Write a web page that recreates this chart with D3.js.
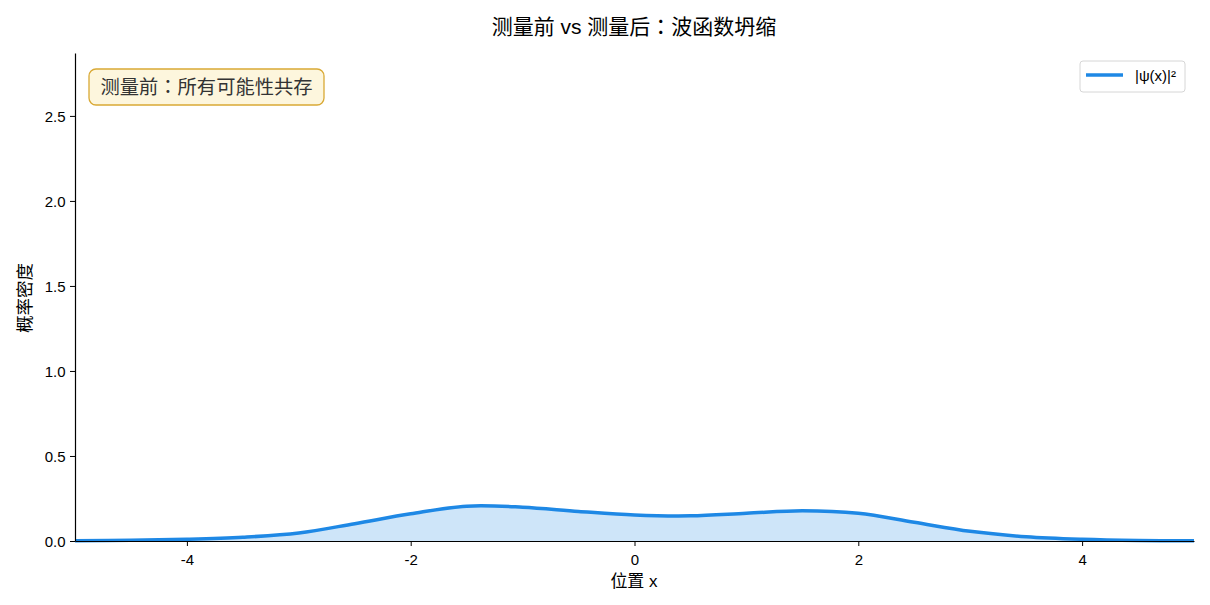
<!DOCTYPE html>
<html>
<head>
<meta charset="utf-8">
<script src="https://cdn.jsdelivr.net/npm/d3@7"></script>
<style>
  body { margin: 0; background: #fff; }
  svg { font-family: "Liberation Sans", "Noto Sans CJK TC", sans-serif; }
</style>
</head>
<body>
<div id="chart"></div>
<script>
// position samples and |psi(x)|^2
var xs = [-5, -4.5, -4, -3.5, -3, -2.5, -2, -1.5, -1, -0.5, 0, 0.5, 1, 1.5, 2, 2.5, 3, 3.5, 4, 4.5, 5];
var density = [0.001, 0.004, 0.010, 0.022, 0.047, 0.102, 0.160, 0.205, 0.199, 0.174, 0.153, 0.148, 0.163, 0.178, 0.163, 0.110, 0.057, 0.025, 0.010, 0.003, 0.001];
var xTicks = [-4, -2, 0, 2, 4];
var yTicks = [0, 0.5, 1.0, 1.5, 2.0, 2.5];

var width = 1210, height = 605;
var m = {top: 53, right: 16, bottom: 64, left: 75};

var svg = d3.select("#chart")
  .append("svg")
  .attr("width", width)
  .attr("height", height);

var x = d3.scaleLinear().domain([-5, 5]).range([m.left, width - m.right]);
var y = d3.scaleLinear().domain([0, 2.87]).range([height - m.bottom, m.top]);

var data = xs.map(function(d, i) { return {x: d, y: density[i]}; });
var curve = d3.curveCatmullRom.alpha(0.5);

// filled area under the curve
svg.append("path")
  .datum(data)
  .attr("fill", "#1e88e5")
  .attr("fill-opacity", 0.22)
  .attr("d", d3.area()
    .curve(curve)
    .x(function(d) { return x(d.x); })
    .y0(y(0))
    .y1(function(d) { return y(d.y); }));

svg.append("path")
  .datum(data)
  .attr("fill", "none")
  .attr("stroke", "#1e88e5")
  .attr("stroke-width", 3.5)
  .attr("d", d3.line()
    .curve(curve)
    .x(function(d) { return x(d.x); })
    .y(function(d) { return y(d.y); }));

// axes
var xAxis = svg.append("g")
  .attr("transform", "translate(0," + y(0) + ")")
  .call(d3.axisBottom(x).tickValues(xTicks).tickSize(5).tickSizeOuter(0)
    .tickFormat(function(d) { return String(d); }));
var yAxis = svg.append("g")
  .attr("transform", "translate(" + m.left + ",0)")
  .call(d3.axisLeft(y).tickValues(yTicks).tickSize(5).tickSizeOuter(0)
    .tickFormat(d3.format(".1f")));

[xAxis, yAxis].forEach(function(g) {
  g.select(".domain").attr("stroke", "#000").attr("stroke-width", 1.2);
  g.selectAll(".tick line").attr("stroke", "#000");
  g.selectAll(".tick text")
    .attr("fill", "#000")
    .style("font-size", "15px")
    .style("font-family", "Liberation Sans, Noto Sans CJK TC, sans-serif");
});
xAxis.selectAll(".tick text").attr("dy", "1.05em");
yAxis.selectAll(".tick text").attr("dx", "-0.1em").attr("dy", "0.35em");

// title and axis labels
svg.append("text")
  .attr("x", 634).attr("y", 34)
  .attr("text-anchor", "middle")
  .style("font-size", "21px")
  .style("fill", "#000")
  .text("测量前 vs 测量后：波函数坍缩");

svg.append("text")
  .attr("x", 634).attr("y", 587)
  .attr("text-anchor", "middle")
  .style("font-size", "17px")
  .text("位置 x");

svg.append("text")
  .attr("transform", "translate(31,298) rotate(-90)")
  .attr("text-anchor", "middle")
  .style("font-size", "17.5px")
  .text("概率密度");

// annotation box
var note = svg.append("g");
note.append("rect")
  .attr("x", 89).attr("y", 69)
  .attr("width", 235).attr("height", 36)
  .attr("rx", 7)
  .attr("fill", "#fdf6dd")
  .attr("stroke", "#d9a935")
  .attr("stroke-width", 1.3);
note.append("text")
  .attr("x", 206.5).attr("y", 94)
  .attr("text-anchor", "middle")
  .style("font-size", "19.3px")
  .style("fill", "#333")
  .text("测量前：所有可能性共存");

// legend
var legend = svg.append("g");
legend.append("rect")
  .attr("x", 1080).attr("y", 61)
  .attr("width", 105).attr("height", 31)
  .attr("rx", 3)
  .attr("fill", "#fff")
  .attr("stroke", "#d6d6d6");
legend.append("line")
  .attr("x1", 1086).attr("x2", 1123)
  .attr("y1", 75).attr("y2", 75)
  .attr("stroke", "#1e88e5")
  .attr("stroke-width", 3.5);
legend.append("text")
  .attr("x", 1135).attr("y", 81)
  .style("font-size", "15px")
  .text("|ψ(x)|²");
</script>
</body>
</html>
